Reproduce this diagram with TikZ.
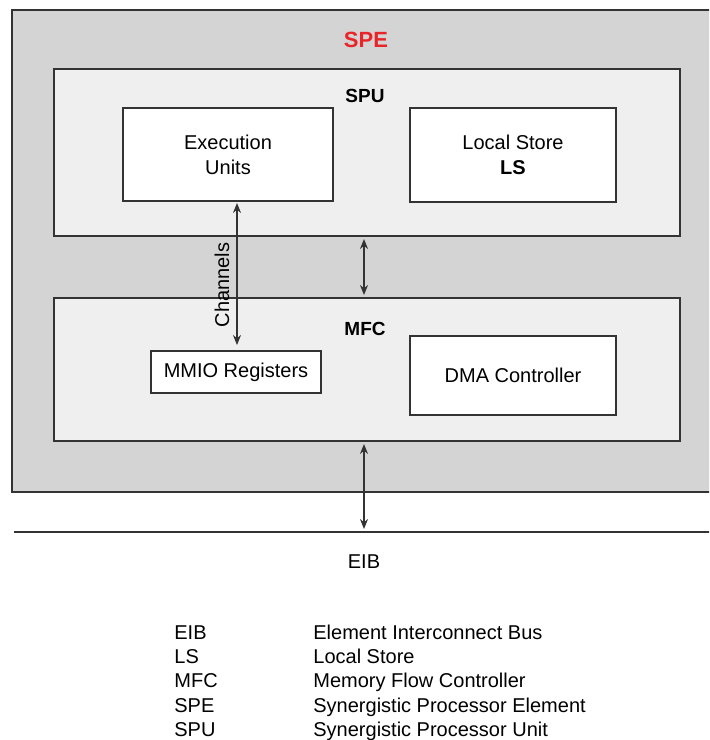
\documentclass[tikz,border=0pt]{standalone}
\usepackage{fontspec}
\setmainfont{Liberation Sans}
\usetikzlibrary{arrows.meta}
\definecolor{spegray}{HTML}{D4D4D4}
\definecolor{subgray}{HTML}{F0EFEF}
\definecolor{linegray}{HTML}{333333}
\definecolor{spered}{HTML}{E8262A}
\begin{document}
\begin{tikzpicture}[x=0.5pt,y=-0.5pt,
  box/.style={draw=linegray,line width=0.75pt,inner sep=0pt,align=center,font=\fontsize{10}{12.5}\selectfont},
  lbl/.style={inner sep=0pt,font=\fontsize{10}{12}\selectfont},
  ttl/.style={inner sep=0pt,font=\bfseries\fontsize{9.5}{11}\selectfont},
  arr/.style={draw=linegray,line width=0.65pt,{Stealth[length=5pt,width=4pt]}-{Stealth[length=5pt,width=4pt]}},
  leg/.style={anchor=base west,inner sep=0pt,font=\fontsize{10}{12}\selectfont}]
\useasboundingbox (0,0) rectangle (709,740);
\begin{scope}
\clip (0,0) rectangle (709,740);
\node[box,fill=spegray,minimum width=356.5pt,minimum height=241pt] (spe) at (368.5,251) {};
\draw[linegray,line width=0.75pt] (14,532) coordinate (bl) -- (712,532) coordinate (br);
\end{scope}
\node[inner sep=0pt,text=spered,font=\bfseries\fontsize{11}{13}\selectfont] (spet) at (366,40) {SPE};
\node[box,fill=subgray,minimum width=313pt,minimum height=83.5pt] (spu) at (367,152.5) {};
\node[ttl] (sput) at (365,96) {SPU};
\node[box,fill=white,minimum width=105pt,minimum height=46.5pt] (exec) at (228,154.5) {Execution\\Units};
\node[box,fill=white,minimum width=103pt,minimum height=47pt] (ls) at (513,155) {Local Store\\\textbf{LS}};
\node[box,fill=subgray,minimum width=313pt,minimum height=71.5pt] (mfc) at (367,369.5) {};
\node[ttl] (mfct) at (365,329) {MFC};
\node[box,fill=white,minimum width=85pt,minimum height=21pt] (mmio) at (236,372) {MMIO Registers};
\node[box,fill=white,minimum width=103pt,minimum height=39.5pt] (dma) at (513,375.5) {DMA Controller};
\coordinate (ctop) at (237,203);
\coordinate (cbot) at (237,345);
\draw[arr] (ctop) -- (cbot);
\node[lbl,rotate=90] (chan) at (222,285) {Channels};
\coordinate (mtop) at (364,239);
\coordinate (mbot) at (364,295);
\draw[arr] (mtop) -- (mbot);
\coordinate (btop) at (364,444);
\coordinate (bbot) at (364,529);
\draw[arr] (btop) -- (bbot);
\node[lbl] (eib) at (364,562) {EIB};
\node[leg] (a1) at (174,639) {EIB};
\node[leg] (a2) at (174,663) {LS};
\node[leg] (a3) at (174,687) {MFC};
\node[leg] (a4) at (174,712) {SPE};
\node[leg] (a5) at (174,736) {SPU};
\node[leg] (d1) at (313,639) {Element Interconnect Bus};
\node[leg] (d2) at (313,663) {Local Store};
\node[leg] (d3) at (313,687) {Memory Flow Controller};
\node[leg] (d4) at (313,712) {Synergistic Processor Element};
\node[leg] (d5) at (313,736) {Synergistic Processor Unit};
\end{tikzpicture}
\end{document}
